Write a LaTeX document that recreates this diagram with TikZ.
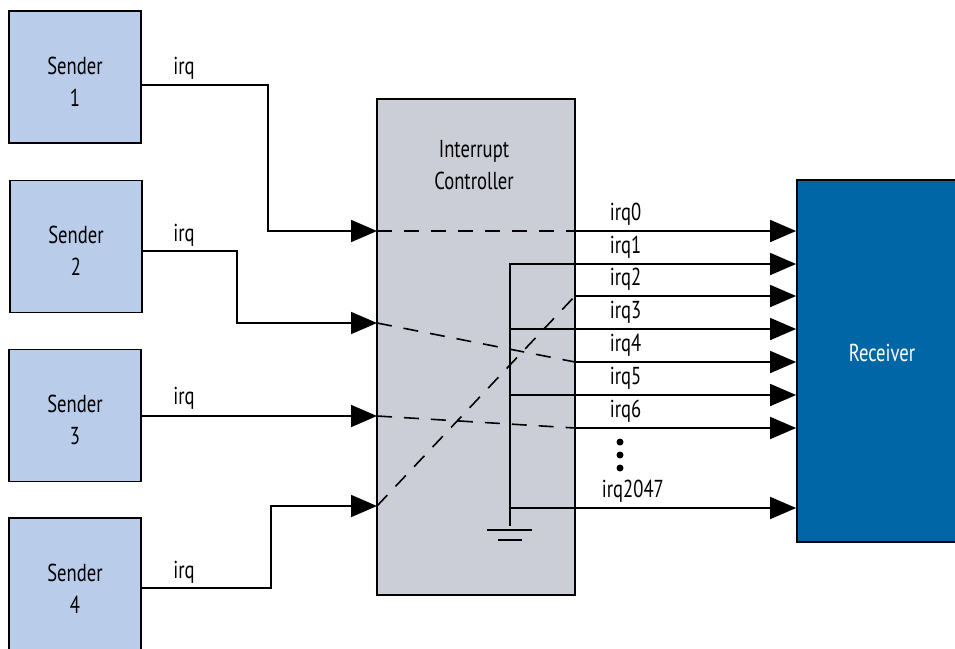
\documentclass[tikz,border=0pt]{standalone}
\usepackage{fontspec}
\setmainfont[FakeStretch=0.76]{PT Sans}
\usetikzlibrary{arrows.meta}
\definecolor{senderblue}{RGB}{185,205,235}
\definecolor{ctrlgray}{RGB}{203,206,214}
\definecolor{recvblue}{RGB}{0,102,166}
\newcommand\dfont{\fontsize{24.5}{32}\selectfont}
\begin{document}
\begin{tikzpicture}[x=1pt,y=-1pt,line width=1.8pt,
  box/.style={draw,line width=1.8pt,inner sep=0pt},
  sender/.style={box,fill=senderblue,minimum width=132pt,minimum height=132pt},
  sig/.style={-{Triangle[length=26pt,width=22pt]}},
  dsh/.style={dash pattern=on 15pt off 12pt,line width=1.6pt},
  lbl/.style={font=\dfont,inner sep=0pt}]
\useasboundingbox (0,0) rectangle (955,648);
% boxes
\node[sender] (s1) at (75,77) {};
\node[sender] (s2) at (76,246.5) {};
\node[sender] (s3) at (75,415.5) {};
\node[sender] (s4) at (75,584) {};
\node[lbl,align=center] (t1) at (75,82) {Sender\\1};
\node[lbl,align=center] (t2) at (76,251) {Sender\\2};
\node[lbl,align=center] (t3) at (75,420) {Sender\\3};
\node[lbl,align=center] (t4) at (75,589) {Sender\\4};
\node[box,fill=ctrlgray,minimum width=198pt,minimum height=496pt] (ic) at (476,347) {};
\node[lbl,align=center] (ict) at (474,165) {Interrupt\\Controller};
\node[box,fill=recvblue,minimum width=170pt,minimum height=362pt] (rc) at (882,361) {};
\node[lbl,text=white] (rct) at (882,353) {Receiver};
% input points
\coordinate (in1) at (377,231);
\coordinate (in2) at (377,323);
\coordinate (in3) at (377,416);
\coordinate (in4) at (377,506);
% output points
\coordinate (o0) at (575,231);
\coordinate (o1) at (575,264);
\coordinate (o2) at (575,296);
\coordinate (o3) at (575,329);
\coordinate (o4) at (575,362);
\coordinate (o5) at (575,395);
\coordinate (o6) at (575,428);
\coordinate (o7) at (575,508);
% sender connectors
\draw[sig] ([yshift=-8pt]s1.east) -| (268,231) -- (in1);
\draw[sig] ([yshift=-4.5pt]s2.east) -| (237,323) -- (in2);
\draw[sig] (s3.east |- in3) -- (in3);
\draw[sig] ([yshift=-4pt]s4.east) -| (271,506) -- (in4);
\node[lbl] (l1) at (184,68) {irq};
\node[lbl] (l2) at (184,235) {irq};
\node[lbl] (l3) at (184,398) {irq};
\node[lbl] (l4) at (184,572) {irq};
% internal routing
\draw[dsh] (in1) -- (o0);
\draw[dsh] (in2) -- (o4);
\draw[dsh] (in3) -- (o6);
\draw[dsh] (in4) -- (o2);
\coordinate (gtop) at (510,264);
\coordinate (gbot) at (510,526);
\draw (o1) -- (gtop) -- (gbot);
\draw (o3) -- (o3 -| gtop);
\draw (o5) -- (o5 -| gtop);
\draw (o7) -- (o7 -| gtop);
\draw (487,530) -- (532,530);
\draw (498,540) -- (522,540);
% outputs
\foreach \o in {o0,o1,o2,o3,o4,o5,o6,o7}
  \draw[sig] (\o) -- (\o -| rc.west);
\foreach \t/\y in {irq0/214,irq1/247,irq2/279,irq3/312,irq4/345,irq5/378,irq6/411}
  \node[lbl,anchor=west] (n\t) at (609,\y) {\t};
\node[lbl,anchor=west] (nirq2047) at (601,491) {irq2047};
\fill (620,442) circle[radius=3.5];
\fill (620,455) circle[radius=3.5];
\fill (620,468) circle[radius=3.5];
\end{tikzpicture}
\end{document}
